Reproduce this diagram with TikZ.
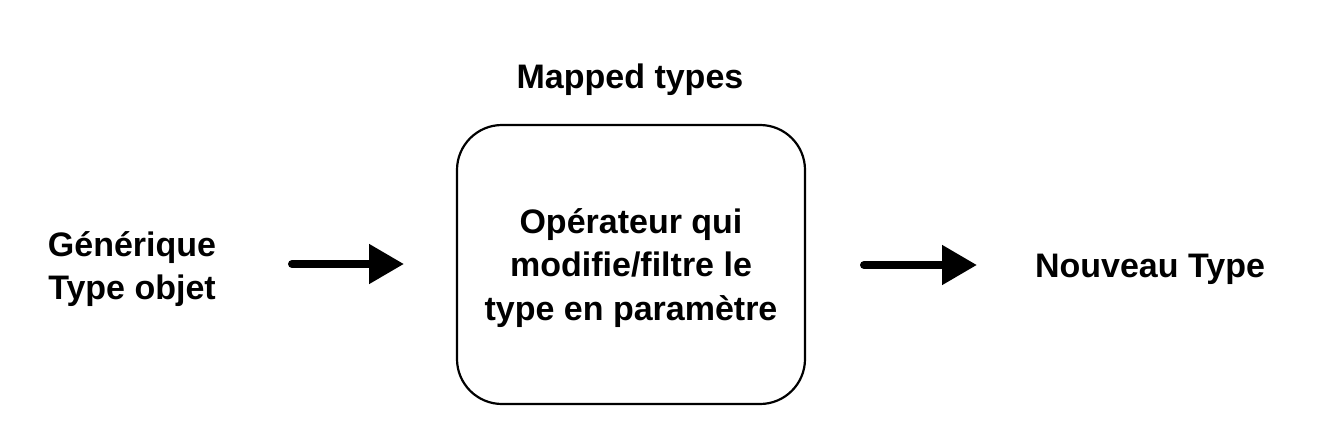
\documentclass[tikz,border=0pt]{standalone}
\usepackage{fontspec}
\setmainfont{Liberation Sans}
\usetikzlibrary{arrows.meta}
\begin{document}
\begin{tikzpicture}[x=1pt,y=-1pt,
  lbl/.style={font=\bfseries\fontsize{34}{43.5}\selectfont, align=center, inner sep=0pt},
  opbox/.style={draw, line width=2.2pt, rounded corners=45pt, minimum width=348pt, minimum height=279pt, inner sep=0pt},
  fatarrow/.style={line width=8pt, line cap=round, -{Triangle[length=35pt,width=38pt]}}]
\useasboundingbox (0,0) rectangle (1332,436);
\node[lbl] (title) at (630,80) {Mapped types};
\node[opbox] (op) at (631,264.5) {};
\node[lbl] (optext) at (631,268) {Opérateur qui\\modifie/filtre le\\type en paramètre};
\node[lbl] (src) at (132,269) {Générique\\Type objet};
\node[lbl] (dst) at (1150,269) {Nouveau Type};
\coordinate (a1s) at (292,264);
\coordinate (a1e) at (404,264);
\coordinate (a2s) at (864,265);
\coordinate (a2e) at (977,265);
\draw[fatarrow] (a1s) -- (a1e);
\draw[fatarrow] (a2s) -- (a2e);
\end{tikzpicture}
\end{document}
